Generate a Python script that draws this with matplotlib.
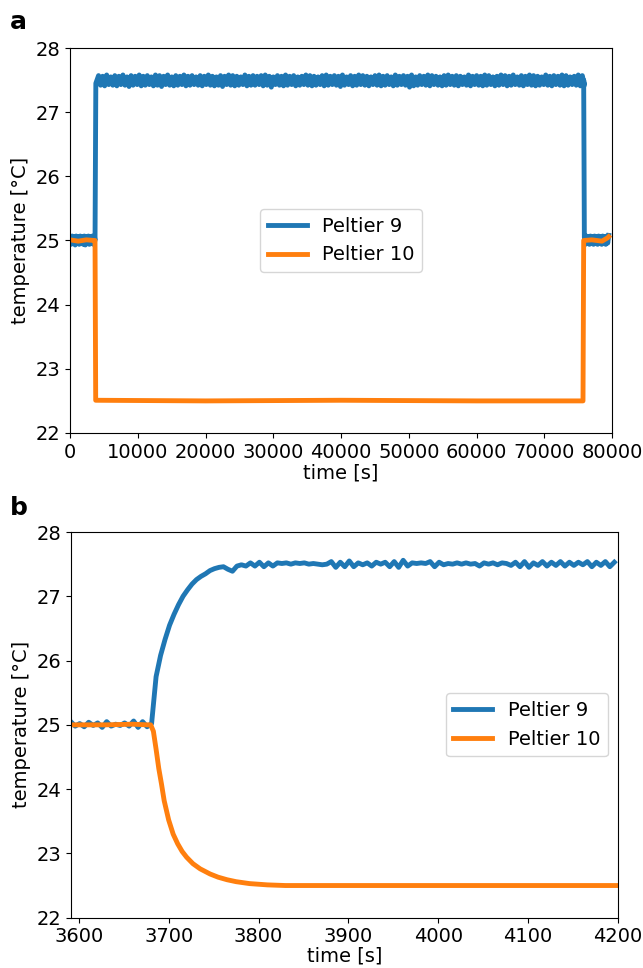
import numpy as np
import matplotlib
matplotlib.use("Agg")
import matplotlib.pyplot as plt

# ---- panel a: full run ----
a_pre_t = [0, 150, 300, 450, 600, 750, 900, 1050, 1200, 1350, 1500, 1650, 1800, 1950,
           2100, 2250, 2400, 2550, 2700, 2850, 3000, 3150, 3300, 3450, 3600]
a_pre_p9 = [25.06, 24.94, 25.07, 24.95, 25.06, 24.93, 25.07, 24.95, 25.06, 24.94,
            25.07, 24.95, 25.06, 24.94, 25.07, 24.93, 25.06, 24.95, 25.07, 24.94,
            25.06, 24.95, 25.07, 24.94, 25.06]

a_step_up_t = [3680, 3800]
a_step_up_p9 = [25.00, 27.45]

# plateau: upper and lower edge of the noisy band, sampled every 600 s,
# the lower readings sit 300 s after the upper ones
a_plat_t0 = 4200
a_plat_dt = 600
a_plat_hi = [
    27.57, 27.56, 27.58, 27.55, 27.57, 27.56, 27.58, 27.55, 27.57, 27.56,
    27.58, 27.56, 27.57, 27.55, 27.58, 27.57, 27.56, 27.58, 27.55, 27.57,
    27.56, 27.58, 27.56, 27.57, 27.55, 27.57, 27.56, 27.58, 27.56, 27.55,
    27.57, 27.56, 27.58, 27.57, 27.56, 27.55, 27.58, 27.56, 27.57, 27.56,
    27.57, 27.58, 27.56, 27.55, 27.57, 27.56, 27.58, 27.56, 27.57, 27.55,
    27.56, 27.58, 27.57, 27.56, 27.55, 27.57, 27.58, 27.56, 27.57, 27.56,
    27.58, 27.55, 27.57, 27.56, 27.58, 27.57, 27.56, 27.55, 27.57, 27.58,
    27.56, 27.57, 27.55, 27.58, 27.56, 27.57, 27.56, 27.58, 27.55, 27.57,
    27.56, 27.58, 27.57, 27.56, 27.55, 27.57, 27.58, 27.56, 27.57, 27.56,
    27.55, 27.58, 27.56, 27.57, 27.56, 27.58, 27.57, 27.55, 27.56, 27.58,
    27.57, 27.56, 27.58, 27.55, 27.57, 27.56, 27.58, 27.57, 27.56, 27.55,
    27.58, 27.56, 27.57, 27.56, 27.58, 27.57, 27.55, 27.56, 27.58, 27.57,
]
a_plat_lo = [
    27.42, 27.41, 27.43, 27.42, 27.41, 27.43, 27.42, 27.40, 27.42, 27.43,
    27.41, 27.42, 27.43, 27.41, 27.42, 27.40, 27.43, 27.42, 27.41, 27.42,
    27.43, 27.41, 27.42, 27.43, 27.42, 27.41, 27.43, 27.42, 27.41, 27.42,
    27.40, 27.43, 27.42, 27.41, 27.42, 27.43, 27.41, 27.42, 27.42, 27.43,
    27.41, 27.42, 27.39, 27.43, 27.42, 27.41, 27.42, 27.43, 27.41, 27.42,
    27.43, 27.42, 27.41, 27.42, 27.43, 27.41, 27.42, 27.43, 27.42, 27.40,
    27.42, 27.43, 27.41, 27.42, 27.43, 27.42, 27.41, 27.43, 27.42, 27.41,
    27.42, 27.43, 27.41, 27.42, 27.43, 27.42, 27.39, 27.41, 27.42, 27.43,
    27.42, 27.41, 27.43, 27.42, 27.41, 27.42, 27.43, 27.42, 27.41, 27.43,
    27.42, 27.41, 27.43, 27.42, 27.41, 27.42, 27.43, 27.41, 27.42, 27.43,
    27.41, 27.42, 27.43, 27.42, 27.41, 27.43, 27.42, 27.41, 27.42, 27.43,
    27.42, 27.41, 27.43, 27.42, 27.41, 27.42, 27.43, 27.42, 27.41, 27.42,
]

a_step_dn_t = [75800, 75900]
a_step_dn_p9 = [27.50, 25.05]

a_post_t = [76050, 76200, 76350, 76500, 76650, 76800, 76950, 77100, 77250, 77400, 77550,
            77700, 77850, 78000, 78150, 78300, 78450, 78600, 78750, 78900, 79050, 79200,
            79350, 79500]
a_post_p9 = [24.94, 25.07, 24.95, 25.06, 24.94, 25.07, 24.95, 25.06, 24.94, 25.07, 24.95,
             25.06, 24.94, 25.07, 24.95, 25.06, 24.94, 25.07, 24.95, 25.06, 24.94, 25.07,
             24.96, 25.08]

a_t_p10 = [0, 1200, 2400, 3600, 3680, 3780, 20000, 40000, 60000, 75700, 75800, 77000, 78500, 79300, 79500]
a_p10 = [25.01, 24.99, 25.01, 25.00, 25.00, 22.51, 22.50, 22.51, 22.50, 22.50, 25.00, 25.01, 24.99, 25.04, 25.06]

# ---- panel b: zoom on the step ----
b_t0 = 3591   # blue samples, one every 5 s
b_dt = 5
b_p9 = [
    25.05, 24.98, 25.02, 24.97, 25.04, 24.99, 25.03, 24.96, 25.05, 24.98,
    25.01, 24.99, 25.03, 24.98, 25.06, 24.96, 25.05, 24.97,
    25.02, 25.75, 26.08, 26.33, 26.55, 26.72, 26.87, 27.00, 27.10, 27.19,
    27.26, 27.31, 27.35, 27.40, 27.43, 27.45, 27.46, 27.42, 27.39, 27.47,
    27.49, 27.47, 27.52, 27.47, 27.53, 27.46, 27.52, 27.47, 27.52, 27.51,
    27.52, 27.50, 27.52, 27.51, 27.52, 27.50, 27.51, 27.50, 27.49, 27.50,
    27.54, 27.45, 27.53, 27.46, 27.55, 27.46, 27.52, 27.49, 27.52, 27.47,
    27.53, 27.50, 27.53, 27.46, 27.54, 27.45, 27.56, 27.47, 27.52, 27.51,
    27.52, 27.51, 27.54, 27.46, 27.53, 27.49, 27.51, 27.50, 27.52, 27.50,
    27.52, 27.50, 27.51, 27.47, 27.52, 27.50, 27.52, 27.49, 27.52, 27.51,
    27.48, 27.53, 27.46, 27.54, 27.45, 27.52, 27.48, 27.54, 27.47, 27.53,
    27.48, 27.54, 27.47, 27.53, 27.48, 27.53, 27.49, 27.54, 27.46, 27.53,
    27.48, 27.54, 27.46, 27.53,
]

b_t_p10 = [3591, 3630, 3660, 3676, 3680, 3683, 3686, 3689, 3692, 3695, 3700, 3705,
           3710, 3715, 3720, 3727, 3735, 3746, 3755, 3765, 3775, 3790, 3810, 3830, 4200]
b_p10 = [25.00, 25.00, 25.01, 25.00, 25.00, 24.90, 24.62, 24.32, 24.08, 23.82, 23.52, 23.30,
         23.15, 23.03, 22.94, 22.84, 22.76, 22.68, 22.63, 22.59, 22.56, 22.53, 22.51, 22.50, 22.50]

plt.rcParams.update({
    "font.size": 14,
    "axes.labelsize": 14,
    "xtick.labelsize": 14,
    "ytick.labelsize": 14,
    "legend.fontsize": 14,
})

# assemble panel a blue trace: interleave upper / lower band readings
n_plat = len(a_plat_hi)
a_plat_t = np.empty(2 * n_plat)
a_plat_t[0::2] = a_plat_t0 + a_plat_dt * np.arange(n_plat)
a_plat_t[1::2] = a_plat_t[0::2] + a_plat_dt / 2
a_plat_p9 = np.empty(2 * n_plat)
a_plat_p9[0::2] = a_plat_hi
a_plat_p9[1::2] = a_plat_lo

a_t_p9 = np.concatenate([a_pre_t, a_step_up_t, a_plat_t, a_step_dn_t, a_post_t])
a_p9 = np.concatenate([a_pre_p9, a_step_up_p9, a_plat_p9, a_step_dn_p9, a_post_p9])

b_t_p9 = b_t0 + b_dt * np.arange(len(b_p9))

fig = plt.figure(figsize=(6.43, 9.68), dpi=100)
ax1 = fig.add_axes([0.109, 0.5527, 0.843, 0.3977])
ax2 = fig.add_axes([0.110, 0.0520, 0.851, 0.3984])

lw = 3.5
ax1.plot(a_t_p9, a_p9, color="tab:blue", lw=lw, label="Peltier 9")
ax1.plot(a_t_p10, a_p10, color="tab:orange", lw=lw, label="Peltier 10")
ax1.set_xlim(0, 80000)
ax1.set_ylim(22, 28)
ax1.set_xlabel("time [s]", labelpad=1)
ax1.set_ylabel("temperature [°C]")
ax1.legend(loc="center")

ax2.plot(b_t_p9, b_p9, color="tab:blue", lw=lw, label="Peltier 9")
ax2.plot(b_t_p10, b_p10, color="tab:orange", lw=lw, label="Peltier 10")
ax2.set_xlim(3591, 4200)
ax2.set_ylim(22, 28)
ax2.set_xlabel("time [s]", labelpad=0)
ax2.set_ylabel("temperature [°C]")
ax2.legend(loc="center right")

fig.text(0.015, 0.977, "a", fontsize=18, fontweight="bold", va="center")
fig.text(0.015, 0.475, "b", fontsize=18, fontweight="bold", va="center")

fig.savefig("out.png", dpi=100)
